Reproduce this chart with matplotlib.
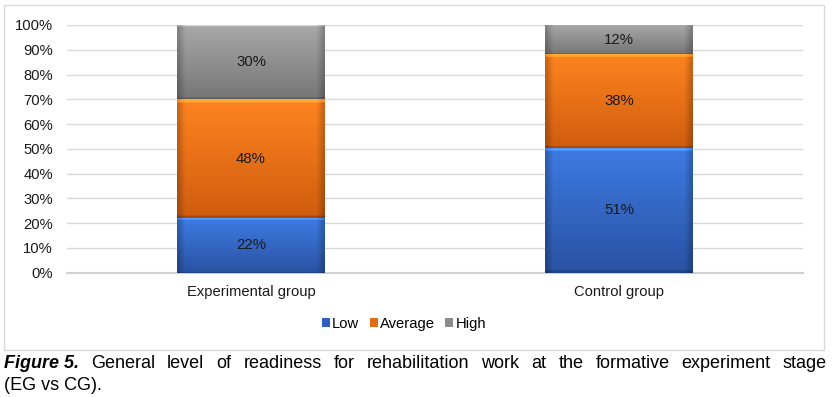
import numpy as np
import matplotlib
matplotlib.use("Agg")
import matplotlib.pyplot as plt
from matplotlib.colors import to_rgb

plt.rcParams['font.family'] = ['Liberation Sans', 'DejaVu Sans']

categories = ["Experimental group", "Control group"]
series_names = ["Low", "Average", "High"]
low = [22, 51]
average = [48, 38]
high = [30, 12]
y_ticks = [0, 10, 20, 30, 40, 50, 60, 70, 80, 90, 100]
caption_bold = "Figure 5."
caption_rest = "General level of readiness for rehabilitation work at the formative experiment stage"
caption_line2 = "(EG vs CG)."

top_colors = ["#3d7be3", "#ff8420", "#a9a9a9"]
bot_colors = ["#2a52a3", "#cf5d0f", "#767676"]
legend_colors = ["#2f5fbf", "#e06d14", "#8c8c8c"]

W, H = 832, 397
fig = plt.figure(figsize=(W / 100, H / 100), dpi=100)

# chart border
border = plt.Rectangle((4 / W, 1 - 350 / H), 820 / W, 345 / H, transform=fig.transFigure,
                       fill=False, edgecolor="#d9d9d9", linewidth=1)
fig.add_artist(border)

ax_l, ax_r, ax_t, ax_b = 67, 803, 25, 272.7
ax = fig.add_axes([ax_l / W, 1 - ax_b / H, (ax_r - ax_l) / W, (ax_b - ax_t) / H])

x = np.arange(len(categories))
series = [low, average, high]
totals = np.array(low, float) + np.array(average) + np.array(high)
bottoms = np.zeros(len(categories))
bw = 0.40


def gradient_img(c1, c2):
    c1 = np.array(to_rgb(c1)); c2 = np.array(to_rgb(c2))
    n = 100
    t = np.linspace(0, 1, n)[:, None, None]
    img = c1 * (1 - t) + c2 * t
    img = np.repeat(img, 60, axis=1)
    s = np.linspace(0, 1, 60)
    edge = np.clip(np.minimum(s, 1 - s) / 0.05, 0, 1)
    fac = 0.78 + 0.22 * edge
    img = img * fac[None, :, None]
    img[:3] = np.clip(img[:3] * 1.18 + 0.05, 0, 1)
    img[-2:] = img[-2:] * 0.8
    return img


for si, vals in enumerate(series):
    heights = np.array(vals) / totals * 100
    bars = ax.bar(x, heights, bw, bottom=bottoms, color="none", edgecolor="none", zorder=3)
    for bi, b in enumerate(bars):
        x0, y0 = b.get_x(), b.get_y()
        w, h = b.get_width(), b.get_height()
        im = ax.imshow(gradient_img(top_colors[si], bot_colors[si]), extent=[x0, x0 + w, y0, y0 + h],
                       aspect="auto", zorder=3, interpolation="bilinear")
        im.set_clip_path(b)
        ax.text(x0 + w / 2, y0 + h / 2, f"{vals[bi]}%", ha="center", va="center",
                fontsize=10.8, color="#1a1a1a", zorder=5)
    bottoms = bottoms + heights

ax.set_xlim(-0.5, 1.5)
ax.set_ylim(0, 100)
ax.set_yticks(y_ticks)
ax.set_yticklabels([f"{t}%" for t in y_ticks])
ax.set_xticks(x)
ax.set_xticklabels(categories)
ax.tick_params(axis="both", length=0, labelsize=10.6, colors="#1a1a1a")
ax.tick_params(axis="x", pad=9)
ax.tick_params(axis="y", pad=10)
ax.yaxis.grid(True, color="#d9d9d9", linewidth=1, zorder=0)
ax.set_axisbelow(True)
for sp in ["left", "right", "top"]:
    ax.spines[sp].set_visible(False)
ax.spines["bottom"].set_color("#d0d0d0")
ax.spines["bottom"].set_linewidth(1.5)

# legend
handles = [plt.Rectangle((0, 0), 1, 1, facecolor=c, edgecolor="none") for c in legend_colors]
fig.legend(handles, series_names, loc="center", bbox_to_anchor=(404 / W, 1 - 324 / H), ncol=3,
           frameon=False, fontsize=10.6, handlelength=0.55, handleheight=0.55, handletextpad=0.15,
           columnspacing=0.7)

# justified caption
fig.canvas.draw()
renderer = fig.canvas.get_renderer()
fs = 13
left_px, right_px = 4, 827
y1 = 1 - 363 / H
y2 = 1 - 385 / H
words = [(caption_bold, dict(fontweight="bold", fontstyle="italic"))] + \
        [(w, {}) for w in caption_rest.split()]
texts = []
total_w = 0
for w, kw in words:
    t = fig.text(0, y1, w, fontsize=fs, va="center", ha="left", color="black", **kw)
    bb = t.get_window_extent(renderer)
    texts.append((t, bb.width))
    total_w += bb.width
gap = ((right_px - left_px) - total_w) / (len(words) - 1)
cur = left_px
for t, wd in texts:
    t.set_x(cur / W)
    cur += wd + gap
fig.text(left_px / W, y2, caption_line2, fontsize=fs, va="center", ha="left", color="black")

fig.savefig("out.png", dpi=100)
